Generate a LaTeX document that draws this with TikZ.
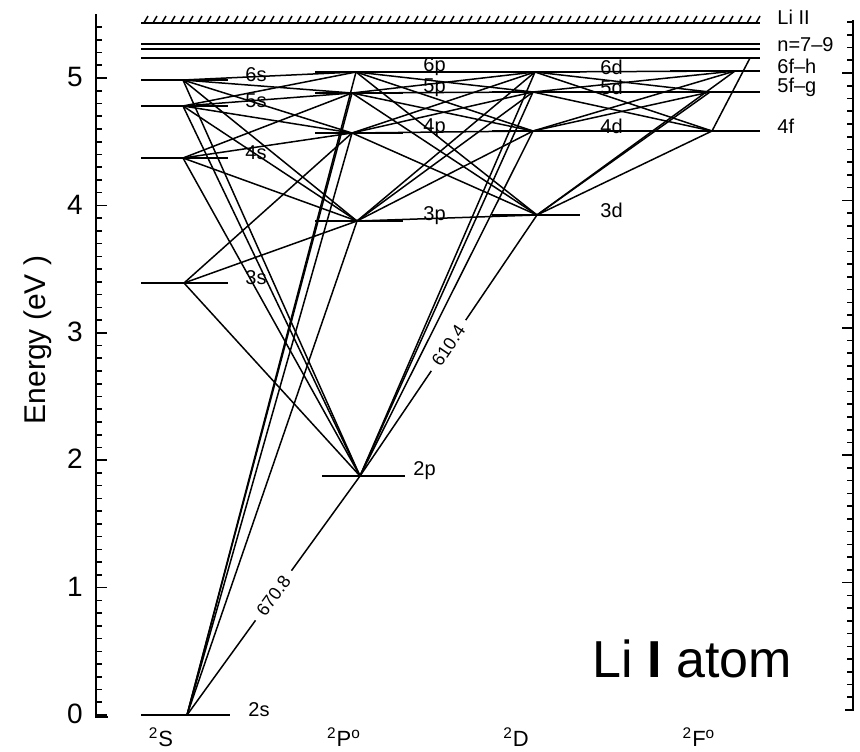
\documentclass[tikz,border=0pt]{standalone}
\usepackage{fontspec}
\setmainfont{Liberation Sans}
\usetikzlibrary{graphs}

\begin{document}
\begin{tikzpicture}[x=0.5pt, y=-0.5pt,
        lvl/.style={line width=1pt},
        trans/.style={line width=0.75pt},
        ax/.style={line width=0.8pt},
        term/.style={anchor=west, inner sep=0pt, font=\fontsize{10}{12}\selectfont},
        wl/.style={sloped, fill=white, inner xsep=4pt, inner ysep=1pt, font=\fontsize{9}{10}\selectfont}]
    \useasboundingbox (0,0) rectangle (860,751);

    % energy axes
    \draw[ax] (96,14) -- (96,717) -- (108,717);
    \foreach \i in {1,...,54}
        \draw[ax] (96,{715-12.74*\i}) -- ++(6,0);
    \foreach \e in {0,...,5}{
        \draw[ax] (96,{715-127.4*\e}) -- ++(11,0);
        \node[font=\fontsize{14}{16}\selectfont] (num\e) at (75,{714-127.4*\e}) {\e};
    }
    \node[rotate=90, font=\fontsize{15}{17}\selectfont] (elab) at (38,340) {Energy (eV )};
    \draw[ax] (853,20) -- (853,710) -- (845,710);
    \foreach \i in {1,...,54}
        \draw[ax] (853,{710-12.74*\i}) -- ++(-6,0);
    \foreach \e in {1,...,5}
        \draw[ax] (853,{710-127.4*\e}) -- ++(-11,0);

    % ionisation limit and high n
    \draw[lvl] (141,23) -- (760,23);
    \foreach \x in {144,153,...,756}
        \draw[trans] (\x,23) -- ++(4,-7);
    \foreach \y in {44,49,58}
        \draw[lvl] (141,\y) -- (760,\y);
    \node[term] (lim) at (777,17) {Li II};
    \node[term] (hin) at (777,45) {n=7--9};
    \coordinate (n7) at (750,58);

    % levels: name / meeting point x / y / bar from / bar to / label x / label
    \foreach \n/\x/\y/\l/\r/\lx/\t in {
            s2/187/715/141/230/248/2s, s3/184/283/141/228/245/3s,
            s4/183/158/141/228/245/4s, s5/183/106/141/228/245/5s,
            s6/183/80/141/228/245/6s,
            p2/360/476/322/405/413/2p, p3/357/221/315/403/423/3p,
            p4/352/133/315/403/423/4p, p5/352/93/315/403/423/5p,
            p6/356/72/315/403/423/6p,
            d3/537/215/492/580/600/3d, d4/533/131/492/580/600/4d,
            d5/533/92/492/580/600/5d, d6/535/72/492/580/600/6d,
            f4/712/131/670/760/777/4f, f5/710/92/670/760/777/5f--g,
            f6/735/71/670/760/777/6f--h}{
        \coordinate (\n) at (\x,\y);
        \draw[lvl] (\l,\y) -- (\r,\y);
        \node[term] (\n lab) at (\lx,{\y-5}) {\t};
    }

    % resonance lines
    \draw[trans] (s2) -- node[wl] (ld1) {670.8} (p2);
    \draw[trans] (p2) -- node[wl] (ld2) {610.4} (d3);

    \graph[use existing nodes, edges={trans}]{
        s2 -- {p3, p4, p5, p6};
        s3 -- {p2, p3, p4};
        s4 -- {p2, p3, p4, p5};
        s5 -- {p2, p3, p4, p5, p6};
        s6 -- {p2, p3, p4, p5, p6};
        p2 -- {d4, d5, d6};
        p3 -- {d3, d4, d5, d6};
        p4 -- {d3, d4, d5, d6};
        p5 -- {d3, d4, d5, d6};
        p6 -- {d3, d4, d5, d6};
        d3 -- {f4, f5, f6};
        d4 -- {f4, f5, f6};
        d5 -- {f4, f5, f6};
        d6 -- {f4, f5, f6};
        f4 -- n7;
    };

    % term columns
    \node[font=\fontsize{11}{13}\selectfont] (cS) at (161,737) {\textsuperscript{2}S};
    \node[font=\fontsize{11}{13}\selectfont] (cP) at (344,737) {\textsuperscript{2}P\textsuperscript{o}};
    \node[font=\fontsize{11}{13}\selectfont] (cD) at (516,737) {\textsuperscript{2}D};
    \node[font=\fontsize{11}{13}\selectfont] (cF) at (699,737) {\textsuperscript{2}F\textsuperscript{o}};

    \node[font=\fontsize{26}{30}\selectfont] (title) at (692,659) {Li \textbf{I} atom};
\end{tikzpicture}
\end{document}
